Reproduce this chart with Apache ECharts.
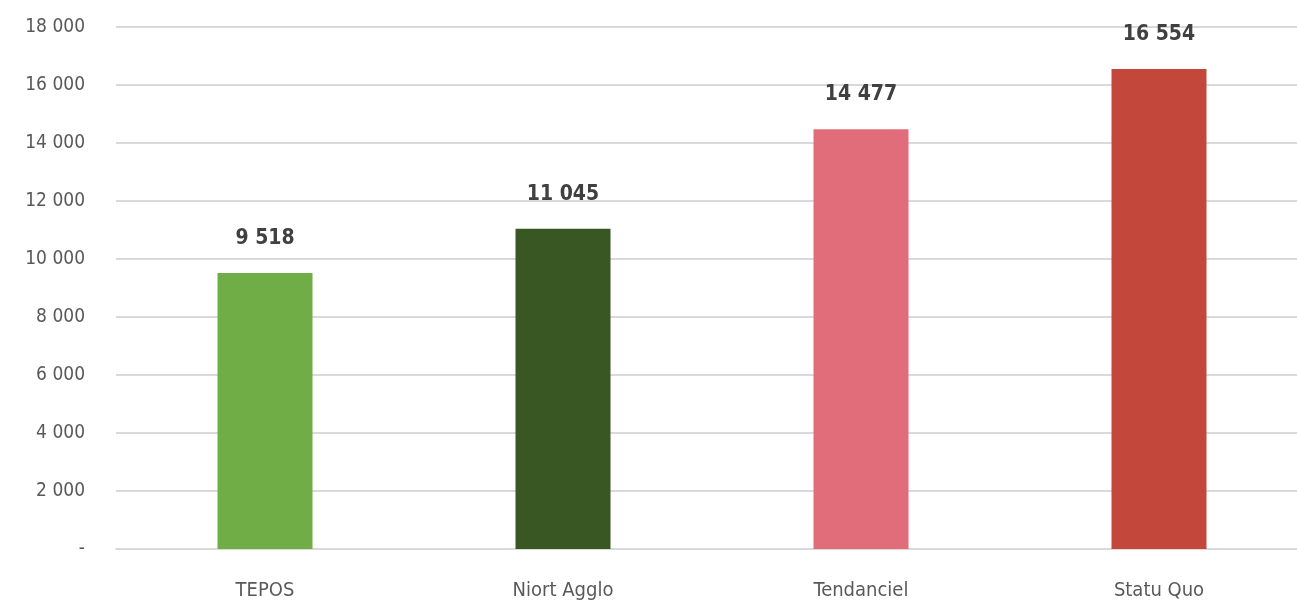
<!DOCTYPE html>
<html><head><meta charset="utf-8">
<script src="https://cdn.jsdelivr.net/npm/echarts@6/dist/echarts.min.js"></script>
<style>html,body{margin:0;padding:0;background:#fff}#c{width:1297px;height:606px}</style>
</head><body><div id="c"></div>
<script>
const categories = ["TEPOS", "Niort Agglo", "Tendanciel", "Statu Quo"];
const values = [9518, 11045, 14477, 16554];
const barColors = ["#70AD47", "#385723", "#E16C7A", "#C3473A"];
const yTicks = [0, 2000, 4000, 6000, 8000, 10000, 12000, 14000, 16000, 18000];

function fmt(v){ return v === 0 ? "-" : String(v).replace(/\B(?=(\d{3})+(?!\d))/g, " "); }

const chart = echarts.init(document.getElementById('c'));
chart.setOption({
  animation: false,
  grid: {left: 116, width: 1192, top: 27, bottom: 57, outerBoundsMode: 'none', containLabel: false},
  xAxis: {
    type: 'category', data: categories,
    axisLine: {lineStyle: {color: '#d9d9d9', width: 2}},
    axisTick: {show: false},
    axisLabel: {color: '#595959', fontSize: 20, margin: 32, fontFamily: 'Liberation Sans Narrow, DejaVu Sans Condensed, sans-serif'}
  },
  yAxis: {
    type: 'value', min: yTicks[0], max: yTicks[yTicks.length-1], interval: 2000,
    axisLine: {show: false}, axisTick: {show: false},
    splitLine: {lineStyle: {color: '#d9d9d9', width: 2}},
    axisLabel: {color: '#595959', fontSize: 19, margin: 31, formatter: fmt, fontFamily: 'Liberation Sans Narrow, DejaVu Sans Condensed, sans-serif'}
  },
  series: [{
    type: 'bar', barWidth: 95,
    data: values.map((v, i) => ({value: v, itemStyle: {color: barColors[i]}})),
    label: {show: true, position: 'top', distance: 24, formatter: p => fmt(p.value),
      color: '#404040', fontSize: 21, fontWeight: 'bold', fontFamily: 'Liberation Sans Narrow, DejaVu Sans Condensed, sans-serif'}
  }]
});
</script></body></html>
